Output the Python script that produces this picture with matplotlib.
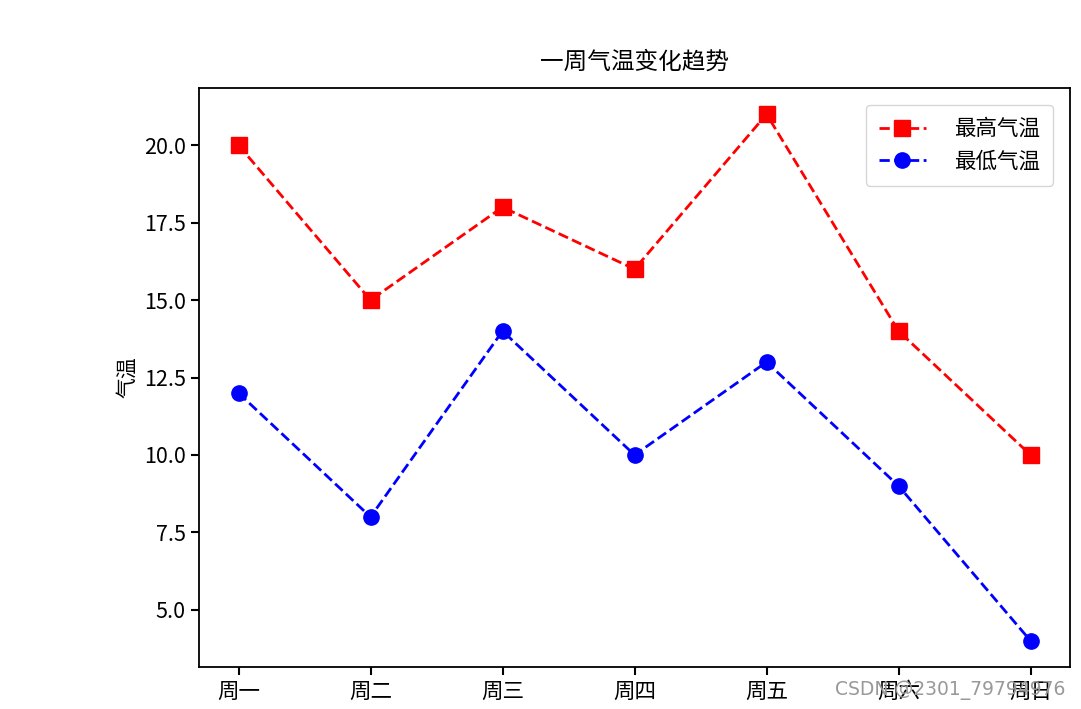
import matplotlib
matplotlib.use('Agg')
import matplotlib.pyplot as plt

plt.rcParams['font.family'] = ['Noto Sans CJK SC', 'DejaVu Sans']
plt.rcParams['axes.unicode_minus'] = False

days = ['周一', '周二', '周三', '周四', '周五', '周六', '周日']
high = [20, 15, 18, 16, 21, 14, 10]
low = [12, 8, 14, 10, 13, 9, 4]

fig = plt.figure(figsize=(10.81, 7.09), dpi=100)
ax = fig.add_axes([0.184, 0.059, 0.806, 0.817])

ax.plot(days, high, 'rs--', label='最高气温', markersize=11, linewidth=2)
ax.plot(days, low, 'bo--', label='最低气温', markersize=11, linewidth=2)

ax.set_title('一周气温变化趋势', fontsize=17, pad=14)
ax.set_ylabel('气温', fontsize=15)
ax.tick_params(labelsize=15.5, width=1.5, length=6)
for s in ax.spines.values():
    s.set_linewidth(1.3)
ax.legend(fontsize=15.5, loc='upper right', borderpad=0.6, handlelength=2.2,
          handletextpad=1.3, labelspacing=0.5, borderaxespad=0.8)

fig.text(0.986, 0.027, 'CSDN @2301_79794976', fontsize=13.5, color='#999999',
         ha='right', va='center', family='DejaVu Sans')

fig.savefig('out.png', dpi=100)
